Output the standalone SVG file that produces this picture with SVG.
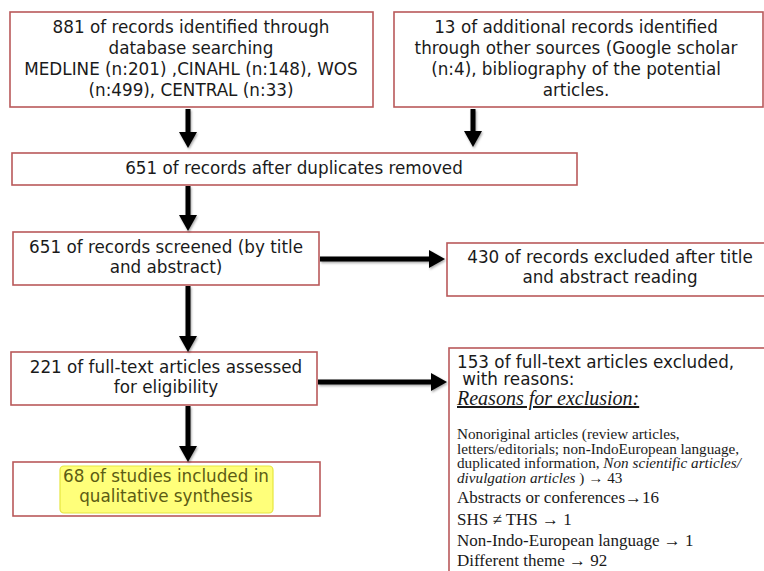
<svg xmlns="http://www.w3.org/2000/svg" width="764" height="571" viewBox="0 0 764 571">
<style>
.box{fill:#fff;stroke:#b9595a;stroke-width:1.6}
.t{font-family:"DejaVu Sans","Liberation Sans",sans-serif;font-size:16.8px;fill:#1a1a1a;text-anchor:middle}
.tl{font-family:"DejaVu Sans","Liberation Sans",sans-serif;font-size:16.8px;fill:#1a1a1a}
.s{font-family:"Liberation Serif","Times New Roman",serif;fill:#1a1a1a}
.p{font-size:15.2px}
.b{font-size:17px}
.con{stroke:#000;stroke-width:5;fill:none;marker-end:url(#ah)}
</style>
<defs>
<marker id="ah" markerUnits="userSpaceOnUse" markerWidth="16" markerHeight="18" viewBox="0 0 16 18" refX="5" refY="9" orient="auto">
<path d="M0,0 L16,9 L0,18 z" fill="#000"/>
</marker>
<filter id="sh" x="-20%" y="-20%" width="140%" height="140%">
<feDropShadow dx="1" dy="1.5" stdDeviation="1" flood-color="#000" flood-opacity="0.35"/>
</filter>
</defs>
<rect width="764" height="571" fill="#fff"/>
<g id="n1">
<rect class="box" x="10" y="12" width="363" height="95"/>
<text class="t" x="191" y="33">881 of records identified through</text>
<text class="t" x="191" y="54">database searching</text>
<text class="t" x="191" y="75">MEDLINE (n:201) ,CINAHL (n:148), WOS</text>
<text class="t" x="191" y="96">(n:499), CENTRAL (n:33)</text>
</g>
<g id="n2">
<rect class="box" x="394" y="12" width="369" height="95"/>
<text class="t" x="576" y="33">13 of additional records identified</text>
<text class="t" x="576" y="54">through other sources (Google scholar</text>
<text class="t" x="576" y="75">(n:4), bibliography of the potential</text>
<text class="t" x="576" y="96">articles.</text>
</g>
<g id="n3">
<rect class="box" x="12" y="153" width="565" height="32"/>
<text class="t" x="294" y="174">651 of records after duplicates removed</text>
</g>
<g id="n4">
<rect class="box" x="13" y="232" width="306" height="53"/>
<text class="t" x="166" y="253">651 of records screened (by title</text>
<text class="t" x="166" y="273">and abstract)</text>
</g>
<g id="n5">
<rect class="box" x="447" y="243" width="330" height="53"/>
<text class="t" x="610" y="263">430 of records excluded after title</text>
<text class="t" x="610" y="283">and abstract reading</text>
</g>
<g id="n6">
<rect class="box" x="11" y="352" width="306" height="53"/>
<text class="t" x="166" y="373">221 of full-text articles assessed</text>
<text class="t" x="166" y="393">for eligibility</text>
</g>
<g id="n7">
<rect class="box" x="449" y="348" width="330" height="240"/>
<text class="tl" x="457" y="368">153 of full-text articles excluded,</text>
<text class="tl" x="457" y="385" xml:space="preserve"> with reasons:</text>
<text class="s" x="457" y="405" font-size="20" font-style="italic" text-decoration="underline">Reasons for exclusion:</text>
<text class="s p" x="457" y="439">Nonoriginal articles (review articles,</text>
<text class="s p" x="457" y="453.5">letters/editorials; non-IndoEuropean language,</text>
<text class="s p" x="457" y="468">duplicated information, <tspan font-style="italic">Non scientific articles/</tspan></text>
<text class="s p" x="457" y="483"><tspan font-style="italic">divulgation articles</tspan> ) → 43</text>
<text class="s b" x="457" y="503">Abstracts or conferences→16</text>
<text class="s b" x="457" y="525">SHS ≠ THS → 1</text>
<text class="s b" x="457" y="546">Non-Indo-European language → 1</text>
<text class="s b" x="457" y="566">Different theme → 92</text>
</g>
<g id="n8">
<rect class="box" x="13" y="462" width="307" height="54"/>
<rect x="60" y="466" width="213" height="47" rx="4" fill="#ffff7a" stroke="#e6e640" stroke-width="1.2"/>
<text class="t" x="166" y="482" style="fill:#5c5c14">68 of studies included in</text>
<text class="t" x="166" y="502" style="fill:#5c5c14">qualitative synthesis</text>
</g>
<g id="connectors" filter="url(#sh)">
<line class="con" x1="188" y1="109" x2="188" y2="137"/>
<line class="con" x1="473" y1="109" x2="473" y2="136"/>
<line class="con" x1="188" y1="186" x2="188" y2="220"/>
<line class="con" x1="188" y1="286" x2="188" y2="341"/>
<line class="con" x1="188" y1="406" x2="188" y2="451"/>
<line class="con" x1="320" y1="259" x2="434" y2="259"/>
<line class="con" x1="318" y1="382" x2="436" y2="382"/>
</g>
</svg>
